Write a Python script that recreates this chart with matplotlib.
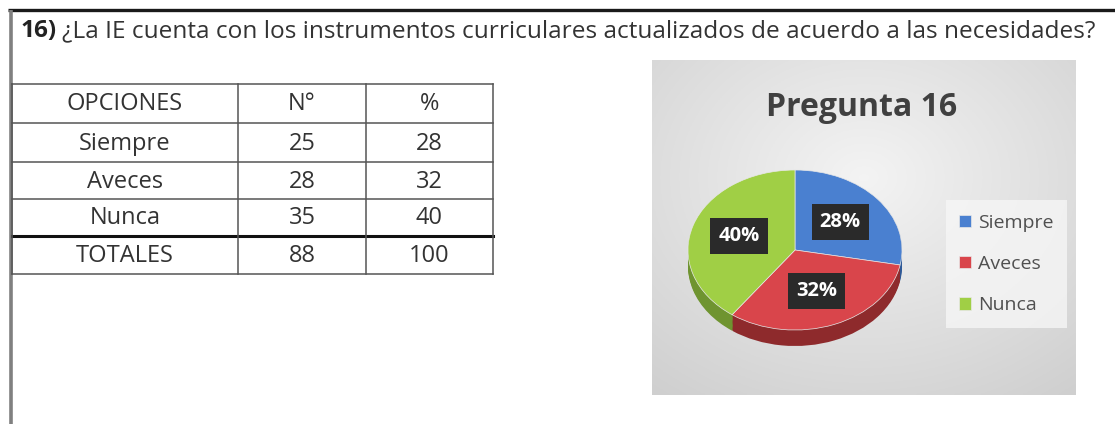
import numpy as np
import matplotlib
matplotlib.use("Agg")
import matplotlib.pyplot as plt

plt.rcParams['font.family'] = ['Open Sans', 'DejaVu Sans']

# data
pregunta = "16)"
texto = "¿La IE cuenta con los instrumentos curriculares actualizados de acuerdo a las necesidades?"
encabezado = ["OPCIONES", "N°", "%"]
opciones = ["Siempre", "Aveces", "Nunca"]
numeros = [25, 28, 35]
porcentajes = [28, 32, 40]
totales = ["TOTALES", 88, 100]
titulo_grafico = "Pregunta 16"

colores = ['#4a80d0', '#d9454b', '#a0cf45']
colores_lado = ['#2f5a98', '#8e2a2c', '#6f9430']

W, H = 1115, 424
fig = plt.figure(figsize=(W / 100, H / 100), dpi=100)

# page layer in pixel coords
bg = fig.add_axes([0, 0, 1, 1], zorder=0)
bg.set_xlim(0, W)
bg.set_ylim(H, 0)
bg.axis('off')

bg.plot([8, W], [10, 10], color='#1a1a1a', lw=2.4, solid_capstyle='butt')
bg.plot([11, 11], [10, H], color='#808080', lw=2.6, solid_capstyle='butt')

t1 = bg.text(20, 37, pregunta, fontsize=17.6, fontweight='bold', color='#222222', va='baseline')
bg.annotate(texto, xy=(1, 0), xycoords=t1, xytext=(4, 0), textcoords='offset points',
            fontsize=17.6, color='#333333', va='bottom', ha='left')

# table
col_x = [12, 238, 366, 493]
row_y = [84, 123, 162, 199, 236, 274]
filas = [encabezado] + [[o, n, p] for o, n, p in zip(opciones, numeros, porcentajes)] + [totales]
for i, y in enumerate(row_y):
    lw = 2.2 if i == 4 else 1.1
    c = '#111111' if i == 4 else '#555555'
    bg.plot([col_x[0], col_x[-1]], [y, y], color=c, lw=lw)
for x in col_x:
    bg.plot([x, x], [row_y[0], row_y[-1]], color='#555555', lw=1.1)
for i, fila in enumerate(filas):
    yc = (row_y[i] + row_y[i + 1]) / 2
    for j, val in enumerate(fila):
        xc = (col_x[j] + col_x[j + 1]) / 2
        bg.text(xc, yc + 1, str(val), ha='center', va='center', fontsize=17, color='#333333')

# chart box with light gray gradient
bx0, by0, bx1, by1 = 652, 60, 1076, 395
box = fig.add_axes([bx0 / W, 1 - by1 / H, (bx1 - bx0) / W, (by1 - by0) / H], zorder=1)
gx, gy = np.meshgrid(np.linspace(-1, 1, 200), np.linspace(-1, 1, 160))
grad = np.clip(np.sqrt(gx ** 2 + (gy + 0.3) ** 2) / 1.6, 0, 1)
shade = 0.955 - 0.14 * grad
box.imshow(np.dstack([shade, shade, shade]), extent=[0, 1, 0, 1], aspect='auto')
box.axis('off')

# pie, squashed for the tilted look
cx, cy, rx, ry = 795, 250, 107, 80
pie_ax = fig.add_axes([(cx - 1.25 * rx) / W, (H - cy - 1.25 * ry) / H, 2.5 * rx / W, 2.5 * ry / H], zorder=2)
pie_ax.patch.set_alpha(0)
for off in np.linspace(-0.2, -0.01, 14):
    pie_ax.pie(porcentajes, colors=colores_lado, startangle=90, counterclock=False,
               center=(0, off), wedgeprops=dict(linewidth=0))
wedges, _, autotexts = pie_ax.pie(porcentajes, colors=colores, startangle=90, counterclock=False,
                                  autopct='%1.0f%%', pctdistance=0.55,
                                  wedgeprops=dict(linewidth=0.5, edgecolor='#e8e8e8'))
for t in autotexts:
    t.set_color('white')
    t.set_fontweight('bold')
    t.set_fontsize(14.5)
    t.set_bbox(dict(boxstyle='square,pad=0.4', fc='#2a2a2a', ec='none'))
pie_ax.set_xlim(-1.25, 1.25)
pie_ax.set_ylim(-1.25, 1.25)
pie_ax.set_aspect('auto')

fig.text(862 / W, 1 - 107 / H, titulo_grafico, ha='center', va='center', fontsize=23,
         fontweight='bold', color='#404040', zorder=5)

leg = pie_ax.legend(wedges, opciones, loc='center left', bbox_to_anchor=(936 / W, 1 - 264 / H),
                    bbox_transform=fig.transFigure, fontsize=14, handlelength=0.6, handleheight=0.6,
                    handletextpad=0.35, labelspacing=1.2, frameon=True, fancybox=False,
                    facecolor='#f6f6f6', edgecolor='none', framealpha=0.8, borderpad=0.7)
for t in leg.get_texts():
    t.set_color('#505050')

fig.savefig('out.png', dpi=100)
